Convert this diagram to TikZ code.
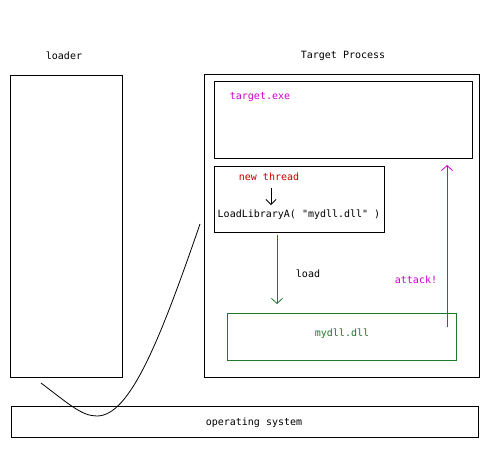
\documentclass[tikz,border=0pt]{standalone}
\usepackage{fontspec}
\setmonofont{DejaVu Sans Mono}
\usetikzlibrary{arrows.meta}
\definecolor{mag}{RGB}{204,0,204}
\definecolor{dred}{RGB}{200,0,0}
\definecolor{dgreen}{RGB}{30,120,40}
\tikzset{
  box/.style={draw=black, line width=0.8pt},
  txt/.style={font=\ttfamily\fontsize{10}{12}\selectfont, inner sep=0pt},
  barb/.style={-{Straight Barb[length=5pt,width=11pt]}, line width=0.8pt}
}
\begin{document}
\begin{tikzpicture}[x=1pt,y=-1pt]
\useasboundingbox[fill=white] (0,0) rectangle (503,450);
% boxes
\draw[box] (10,75) rectangle (122,377);
\draw[box] (204,74) rectangle (479,377);
\draw[box] (214,81) rectangle (472,158);
\draw[box] (214,166) rectangle (384,232);
\draw[box,draw=dgreen] (227,313) rectangle (456,360);
\draw[box] (11,406) rectangle (478,437);
% texts
\node[txt] (loader) at (64,56) {loader};
\node[txt] (tp) at (343,56) {Target Process};
\node[txt,text=mag] (exe) at (260,97) {target.exe};
\node[txt,text=dred] (nt) at (269,177) {new thread};
\node[txt] (ll) at (299,215) {LoadLibraryA( "mydll.dll" )};
\node[txt,text=dgreen] (dll) at (342,334) {mydll.dll};
\node[txt] (load) at (308,274) {load};
\node[txt,text=mag] (att) at (416,280) {attack!};
\node[txt] (os) at (254,423) {operating system};
% arrows
\coordinate (a1) at (271,188);
\coordinate (a2) at (271,205);
\draw[barb,-{Straight Barb[length=5pt,width=10pt]}] (a1) -- (a2);
\coordinate (g1) at (277,235);
\coordinate (g2) at (277,304);
\draw[barb,draw=dgreen] (g1) -- (g2);
\coordinate (m1) at (447,327);
\coordinate (m2) at (447,165);
\draw[barb,draw=mag] (m1) -- (m2);
% curve
\coordinate (c0) at (41,383);
\coordinate (c1) at (97,416);
\coordinate (c2) at (200,224);
\draw[line width=0.8pt] (c0) .. controls (70,405) and (82,416) .. (c1) .. controls (130,416) and (160,340) .. (c2);
\end{tikzpicture}
\end{document}
